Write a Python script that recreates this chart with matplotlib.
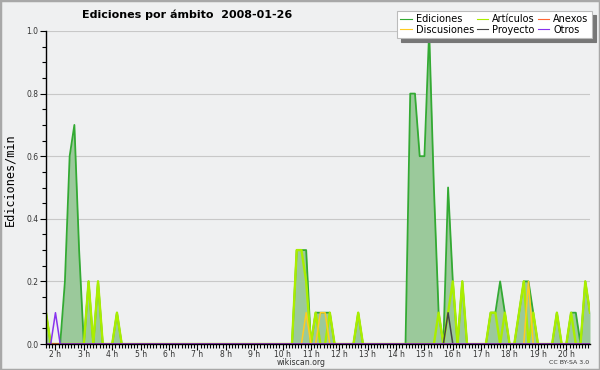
import matplotlib
matplotlib.use('Agg')
import matplotlib.pyplot as plt
from matplotlib.ticker import MultipleLocator, FixedLocator
from matplotlib.lines import Line2D
from matplotlib.patches import Rectangle
import numpy as np

# ---- data: 10-minute samples starting 01:40, values in edits/min ----
START = "01:40"
STEP_MIN = 10
N_POINTS = 116

ediciones = {"01:40": 0.1, "02:20": 0.2, "02:30": 0.6, "02:40": 0.7, "02:50": 0.3,
             "03:10": 0.2, "03:30": 0.2, "04:10": 0.1,
             "10:30": 0.3, "10:40": 0.3, "10:50": 0.3,
             "11:10": 0.1, "11:20": 0.1, "11:30": 0.1, "11:40": 0.1, "12:40": 0.1,
             "14:30": 0.8, "14:40": 0.8, "14:50": 0.6, "15:00": 0.6, "15:10": 1.0,
             "15:20": 0.5, "15:30": 0.1, "15:50": 0.5, "16:00": 0.2, "16:20": 0.2,
             "17:20": 0.1, "17:30": 0.1, "17:40": 0.2, "17:50": 0.1,
             "18:20": 0.1, "18:30": 0.2, "18:40": 0.2, "18:50": 0.1, "19:40": 0.1,
             "20:10": 0.1, "20:20": 0.1, "20:40": 0.2, "20:50": 0.1}
articulos = {"01:40": 0.1, "03:10": 0.2, "03:30": 0.2, "04:10": 0.1,
             "10:30": 0.3, "10:40": 0.3, "10:50": 0.2, "11:10": 0.1, "11:40": 0.1,
             "12:40": 0.1, "15:30": 0.1, "15:50": 0.1, "16:00": 0.2, "16:20": 0.2,
             "17:20": 0.1, "17:30": 0.1, "17:50": 0.1, "18:20": 0.1, "18:30": 0.2,
             "18:50": 0.1, "19:40": 0.1, "20:10": 0.1, "20:40": 0.2, "20:50": 0.1}
discusiones = {"10:50": 0.1, "11:20": 0.1, "11:30": 0.1, "18:40": 0.2}
proyecto = {"15:50": 0.1}
anexos = {}
otros = {"02:00": 0.1}

hour_ticks = list(range(2, 21))
hour_labels = [f"{h} h" for h in hour_ticks]
y_ticks = [0.0, 0.2, 0.4, 0.6, 0.8, 1.0]

legend_names = ["Ediciones", "Discusiones", "Artículos", "Proyecto", "Anexos", "Otros"]
colors = {"Ediciones": "#33aa33", "Artículos": "#aaee00", "Anexos": "#ff6633",
          "Discusiones": "#ffcc22", "Proyecto": "#444444", "Otros": "#8833ee"}

# ---- build arrays ----
sh, sm = map(int, START.split(":"))
start_min = sh * 60 + sm
hours = (start_min + np.arange(N_POINTS) * STEP_MIN) / 60.0

def series(d):
    arr = np.zeros(N_POINTS)
    for t, v in d.items():
        hh, mm = map(int, t.split(":"))
        arr[int(round((hh * 60 + mm - start_min) / STEP_MIN))] = v
    return arr

data = {"Ediciones": series(ediciones), "Artículos": series(articulos),
        "Discusiones": series(discusiones), "Proyecto": series(proyecto),
        "Anexos": series(anexos), "Otros": series(otros)}

bg = "#eff0f1"
fig = plt.figure(figsize=(6, 3.7), dpi=100, facecolor=bg)
ax = fig.add_axes([46 / 600, 1 - 344 / 370, 544 / 600, 313 / 370])
ax.set_facecolor(bg)

ax.fill_between(hours, data["Ediciones"], 0, color="#9bc99b", lw=0, zorder=1)
ax.plot(hours, data["Ediciones"], color=colors["Ediciones"], lw=1.3, zorder=3)
ax.plot(hours, data["Artículos"], color=colors["Artículos"], lw=1.7, zorder=4)
for name in ["Discusiones", "Proyecto", "Anexos", "Otros"]:
    ax.plot(hours, data[name], color=colors[name], lw=1.1, zorder=5)

ax.set_xlim(hours[0], hours[-1])
ax.set_ylim(0, 1.0)
ax.grid(axis="y", color="#c8c8c8", lw=0.8, zorder=0)
ax.set_axisbelow(True)
for s in ["top", "right"]:
    ax.spines[s].set_visible(False)
for s in ["left", "bottom"]:
    ax.spines[s].set_color("black")
    ax.spines[s].set_linewidth(1.0)
    ax.spines[s].set_zorder(6)

ax.xaxis.set_major_locator(FixedLocator(hour_ticks))
ax.set_xticklabels(hour_labels)
ax.xaxis.set_minor_locator(MultipleLocator(1 / 9))
ax.yaxis.set_major_locator(FixedLocator(y_ticks))
ax.set_yticklabels([f"{v:.1f}" for v in y_ticks])
ax.yaxis.set_minor_locator(MultipleLocator(0.05))
ax.tick_params(axis="both", which="major", length=4, width=0.8, color="black",
               labelsize=5.5, labelcolor="#333333")
ax.tick_params(axis="x", which="major", pad=0.3)
ax.tick_params(axis="y", which="major", pad=1.5)
ax.tick_params(axis="both", which="minor", length=3, width=0.8, color="black")

fig.text(187 / 600, 1 - 15 / 370, "Ediciones por ámbito  2008-01-26",
         ha="center", va="center", fontsize=8, weight="bold")
fig.text(10 / 600, 1 - 180 / 370, "Ediciones/min", rotation=90,
         ha="center", va="center", fontsize=8.6, family="DejaVu Sans Mono")
fig.text(301 / 600, 1 - 362.5 / 370, "wikiscan.org", ha="center", va="center",
         fontsize=5.6, color="#333333")
fig.text(569 / 600, 1 - 362.5 / 370, "CC BY-SA 3.0", ha="center", va="center",
         fontsize=4.5, color="#333333")

handles = [Line2D([], [], color=colors[n], lw=0.8) for n in legend_names]
leg = fig.legend(handles, legend_names, ncol=3, loc="upper right",
                 bbox_to_anchor=(592 / 600, 1 - 11 / 370), fontsize=7,
                 frameon=True, fancybox=False,
                 shadow={"color": "#777777", "alpha": 1.0, "ox": 3, "oy": -3},
                 handlelength=1.2, handletextpad=0.4, columnspacing=0.3,
                 labelspacing=0.05, borderpad=0.35, borderaxespad=0)
leg.get_frame().set_edgecolor("#bbbbbb")
leg.get_frame().set_linewidth(0.8)
leg.get_frame().set_facecolor("white")

fig.patches.append(Rectangle((0, 0), 1, 1, transform=fig.transFigure, fill=False,
                             edgecolor="#a8a8a8", lw=2.5))

fig.savefig("out.png", dpi=100, facecolor=bg)
